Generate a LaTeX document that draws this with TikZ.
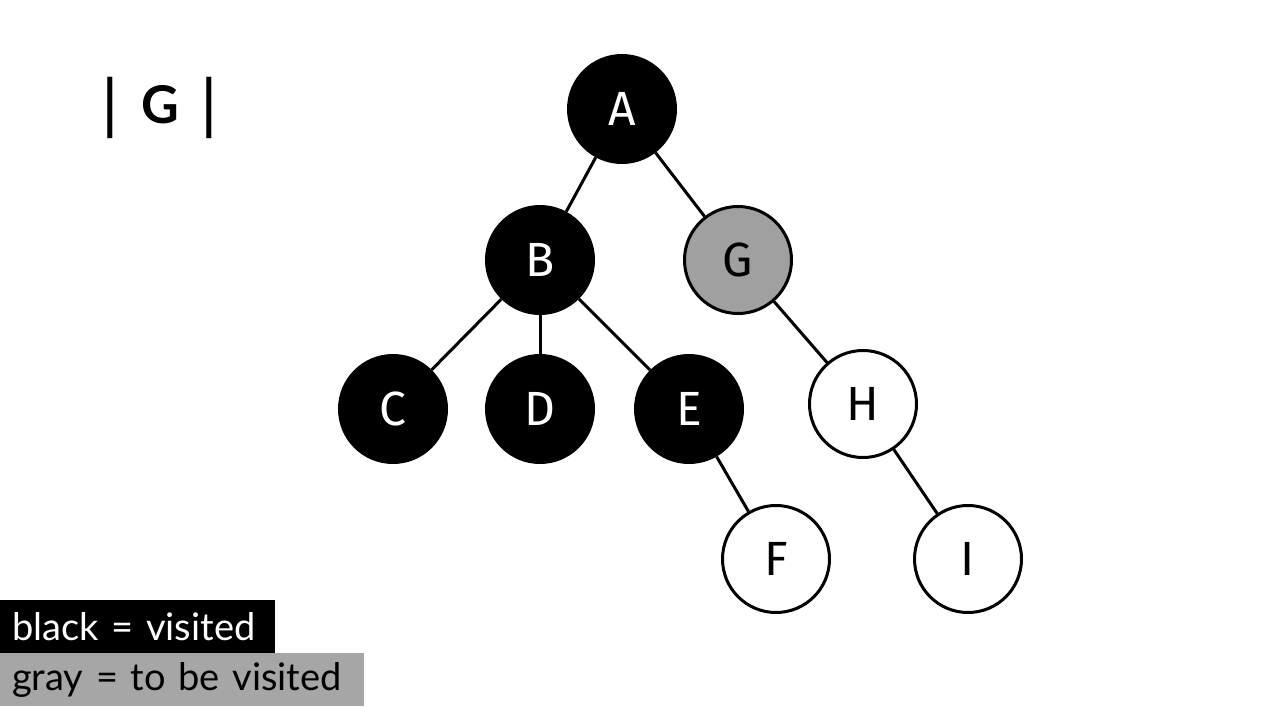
\documentclass[tikz,border=0pt]{standalone}
\usepackage{fontspec}
\setmainfont{Fira Sans}
\newfontfamily\legendfont{Lato}
\begin{document}
\begin{tikzpicture}[x=1pt,y=-1pt,
  vert/.style={circle,draw=black,line width=3pt,minimum size=107pt,inner sep=0pt,font=\fontsize{48}{52}\selectfont},
  done/.style={vert,fill=black,text=white},
  queued/.style={vert,fill=graynode,text=black},
  fresh/.style={vert,fill=white,text=black},
  edge/.style={line width=3pt,draw=black},
  legendbox/.style={anchor=north west,inner xsep=12pt,inner ysep=0pt,minimum height=53pt,font=\legendfont\fontsize{38}{40}\selectfont}
]
\definecolor{graynode}{HTML}{A0A0A0}
\definecolor{graylegend}{HTML}{A6A6A6}
\useasboundingbox[fill=white] (0,0) rectangle (1263,707);

\node[done] (A) at (622,109) {A};
\node[done] (B) at (540,260) {B};
\node[queued] (G) at (738,260) {G};
\node[done] (C) at (393,409) {C};
\node[done] (D) at (540,409) {D};
\node[done] (E) at (689,409) {E};
\node[fresh] (H) at (863,404) {H};
\node[fresh] (F) at (776,559) {F};
\node[fresh] (I) at (968,559) {I};

\draw[edge] (A) -- (B);
\draw[edge] (A) -- (G);
\draw[edge] (B) -- (C);
\draw[edge] (B) -- (D);
\draw[edge] (B) -- (E);
\draw[edge] (G) -- (H);
\draw[edge] (E) -- (F);
\draw[edge] (H) -- (I);

\node[font=\legendfont\bfseries\fontsize{52}{56}\selectfont] (title) at (160,108) {\raisebox{-4pt}{\scalebox{1}[1.25]{|}}\hspace{24pt}G\hspace{24pt}\raisebox{-4pt}{\scalebox{1}[1.25]{|}}};

\node[legendbox,fill=graylegend,text=black,minimum width=364pt,text width=340pt,align=left] (gray) at (0,653) {gray = to be visited};
\node[legendbox,fill=black,text=white,minimum width=275pt,text width=251pt,align=left] (black) at (0,600) {black = visited};
\end{tikzpicture}
\end{document}
